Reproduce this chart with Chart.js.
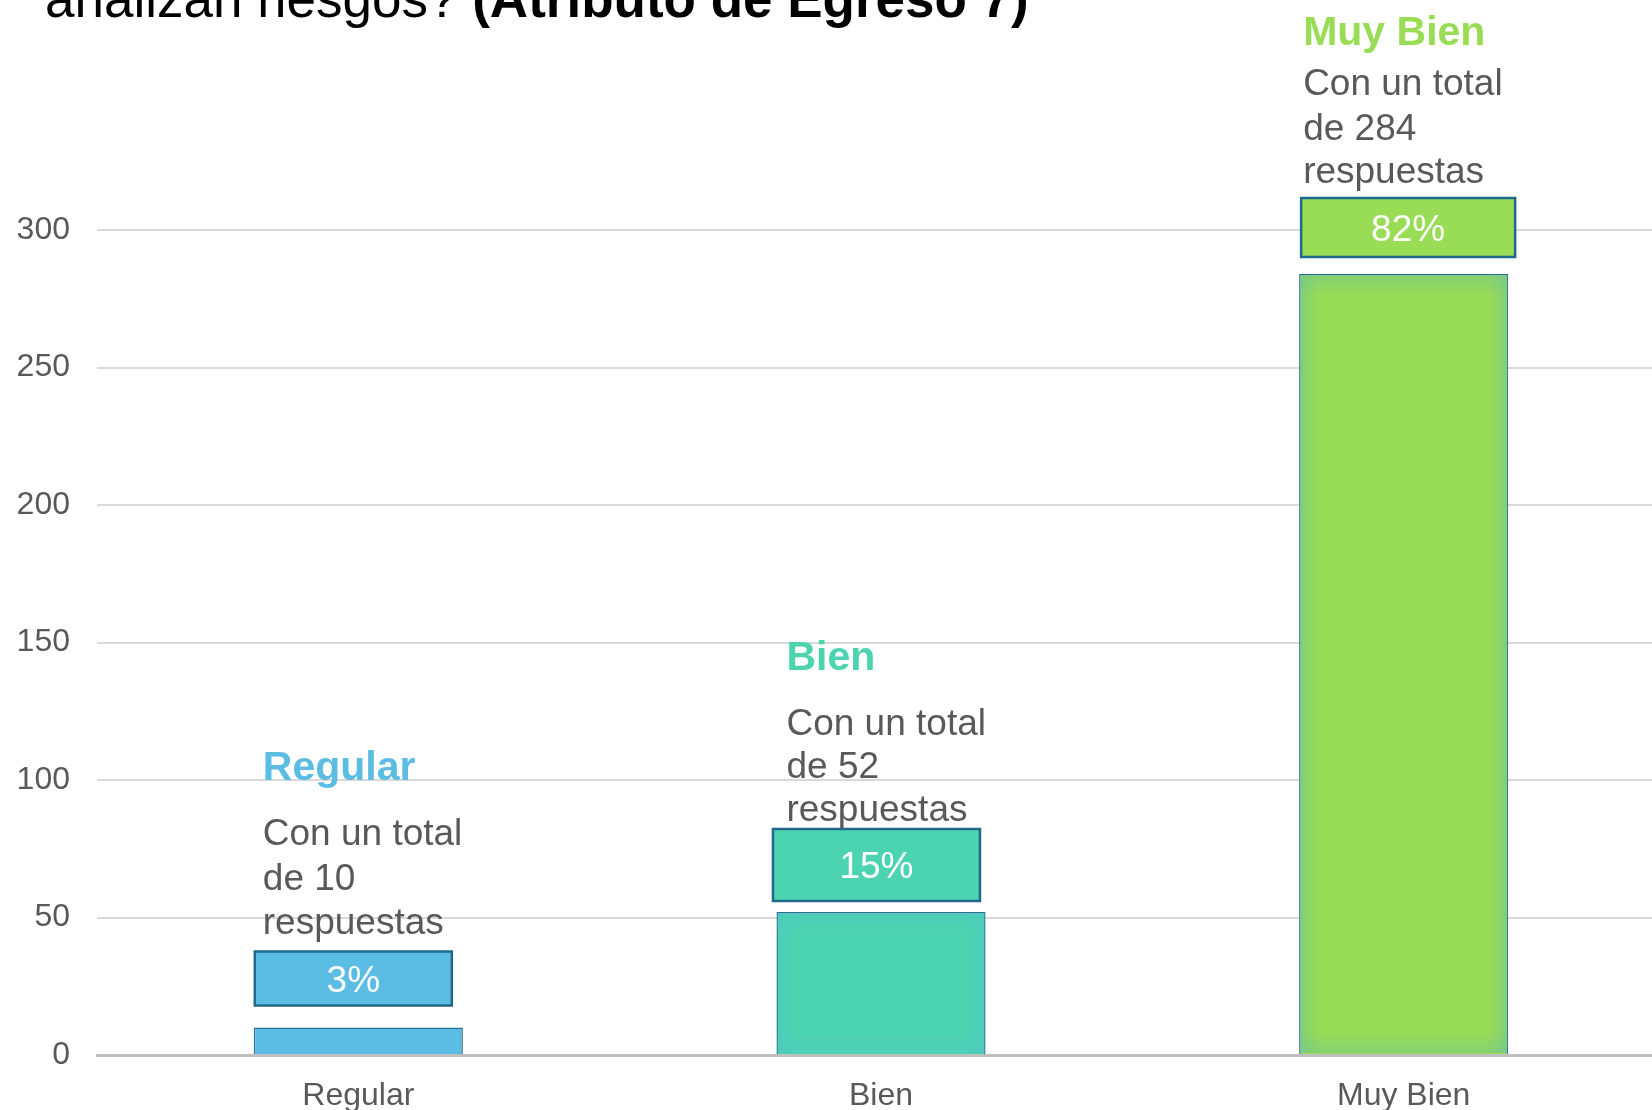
<!DOCTYPE html>
<html>
<head>
<meta charset="utf-8">
<script src="https://cdn.jsdelivr.net/npm/chart.js@4.4.0/dist/chart.umd.min.js"></script>
<style>
  html, body { margin: 0; padding: 0; background: #fff; overflow: hidden; }
  #wrap { width: 1670px; height: 1110px; }
</style>
</head>
<body>
<div id="wrap"><canvas id="myChart" width="1670" height="1110"></canvas></div>
<script>
// data
const categories = ['Regular', 'Bien', 'Muy Bien'];
const responses = [10, 52, 284];
const percentLabels = ['3%', '15%', '82%'];
const yTicks = [0, 50, 100, 150, 200, 250, 300];

const barColors = ['#5BBDE4', '#4CD4B0', '#99DC55'];
const edgeRGB = ['80,170,210', '80,195,200', '110,195,150'];
const edgeAlpha = [0, 0.45, 0.6];
const FONT = '"Liberation Sans", Arial, sans-serif';

// where the note sits relative to each bar (left/top of the bar)
const notes = [
  { boxDx: 1, boxW: 197, boxTop: 76, boxH: 54, textDx: 9, lines: [94, 138, 183], title: 248 },
  { boxDx: -3.5, boxW: 207, boxTop: 83, boxH: 72, textDx: 10, lines: [91, 134, 177], title: 242 },
  { boxDx: 2, boxW: 214, boxTop: 76, boxH: 59, textDx: 4, lines: [91, 134, 179], title: 229 }
];

const titlePlugin = {
  id: 'topTitle',
  afterDraw(chart) {
    const ctx = chart.ctx;
    ctx.save();
    ctx.fillStyle = '#000';
    ctx.textBaseline = 'alphabetic';
    ctx.textAlign = 'left';
    ctx.font = '53px ' + FONT;
    const part1 = 'analizan riesgos? ';
    ctx.fillText(part1, 45, 17);
    const w = ctx.measureText(part1).width;
    ctx.font = 'bold 53px ' + FONT;
    ctx.fillText('(Atributo de Egreso 7)', 45 + w, 17);
    ctx.restore();
  }
};

function glow(i, a) {
  return 'rgba(' + edgeRGB[i] + ',' + (edgeAlpha[i] * a) + ')';
}

const notePlugin = {
  id: 'barNotes',
  afterDatasetsDraw(chart) {
    const ctx = chart.ctx;
    const meta = chart.getDatasetMeta(0);
    ctx.save();
    meta.data.forEach((bar, i) => {
      const left = bar.x - bar.width / 2;
      const top = bar.y;
      const bottom = bar.base;
      const h = bottom - top - 2;
      // soft inner glow on the bars
      if (edgeAlpha[i] > 0) {
        const g = ctx.createLinearGradient(left, 0, left + bar.width, 0);
        g.addColorStop(0, glow(i, 1));
        g.addColorStop(0.04, glow(i, 0.5));
        g.addColorStop(0.1, glow(i, 0));
        g.addColorStop(0.9, glow(i, 0));
        g.addColorStop(0.96, glow(i, 0.5));
        g.addColorStop(1, glow(i, 1));
        ctx.fillStyle = g;
        ctx.fillRect(left + 1, top + 1, bar.width - 2, h);
        const gv = ctx.createLinearGradient(0, top, 0, top + 22);
        gv.addColorStop(0, glow(i, 0.8));
        gv.addColorStop(1, glow(i, 0));
        ctx.fillStyle = gv;
        ctx.fillRect(left + 1, top + 1, bar.width - 2, Math.min(22, h));
        const gb = ctx.createLinearGradient(0, bottom, 0, bottom - 22);
        gb.addColorStop(0, glow(i, 0.8));
        gb.addColorStop(1, glow(i, 0));
        ctx.fillStyle = gb;
        ctx.fillRect(left + 1, bottom - 22, bar.width - 2, 21);
      }

      const n = notes[i];
      // percentage box
      const bx = left + n.boxDx, by = top - n.boxTop;
      ctx.fillStyle = barColors[i];
      ctx.fillRect(bx, by, n.boxW, n.boxH);
      ctx.strokeStyle = '#1F6A8A';
      ctx.lineWidth = 2.5;
      ctx.strokeRect(bx, by, n.boxW, n.boxH);
      ctx.fillStyle = '#FFFFFF';
      ctx.font = '37px ' + FONT;
      ctx.textAlign = 'center';
      ctx.textBaseline = 'middle';
      ctx.fillText(percentLabels[i], bx + n.boxW / 2, by + n.boxH / 2 + 3);

      // text block
      const tx = left + n.textDx;
      ctx.textAlign = 'left';
      ctx.textBaseline = 'alphabetic';
      ctx.fillStyle = barColors[i];
      ctx.font = 'bold 41px ' + FONT;
      ctx.fillText(categories[i], tx, top - n.title);
      ctx.fillStyle = '#595959';
      ctx.font = '37px ' + FONT;
      const txt = ['respuestas', 'de ' + responses[i], 'Con un total'];
      txt.forEach((t, k) => ctx.fillText(t, tx, top - n.lines[k]));
    });
    ctx.restore();
  }
};

new Chart(document.getElementById('myChart'), {
  type: 'bar',
  data: {
    labels: categories,
    datasets: [{
      data: responses,
      backgroundColor: barColors,
      borderColor: '#2A6F8F',
      borderWidth: 1.5,
      categoryPercentage: 1,
      barPercentage: 0.4
    }]
  },
  options: {
    responsive: false,
    animation: false,
    layout: { padding: { top: 230, right: 5, left: 0, bottom: 0 } },
    plugins: { legend: { display: false }, tooltip: { enabled: false } },
    scales: {
      y: {
        min: 0,
        max: 300,
        afterBuildTicks(scale) { scale.ticks = yTicks.map(v => ({ value: v })); },
        afterFit(scale) { scale.width = 97; },
        border: { display: false },
        grid: { color: '#D9D9D9', lineWidth: 2, drawTicks: false },
        ticks: { padding: 27, color: '#595959', font: { family: FONT, size: 32 } }
      },
      x: {
        afterFit(scale) { scale.height = 55; },
        border: { display: true, color: '#BFBFBF', width: 3 },
        grid: { display: false, drawTicks: false },
        ticks: { padding: 22, color: '#595959', font: { family: FONT, size: 32 } }
      }
    }
  },
  plugins: [titlePlugin, notePlugin]
});
</script>
</body>
</html>
